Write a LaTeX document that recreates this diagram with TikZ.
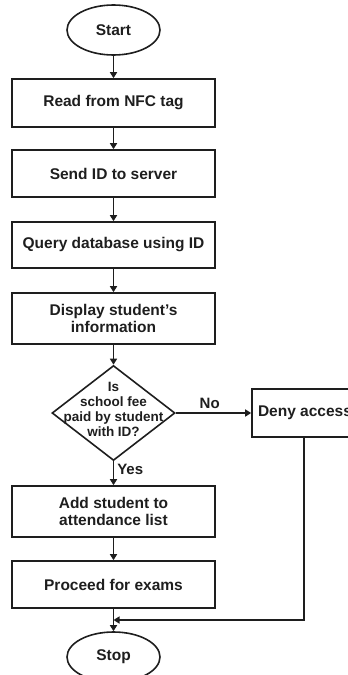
\documentclass[tikz,border=0pt]{standalone}
\usepackage{fontspec}
\setmainfont{Liberation Sans}
\usetikzlibrary{shapes.geometric,arrows.meta}
\definecolor{ink}{HTML}{1E1E1E}
\tikzset{
  box/.style={draw=ink, line width=1.6pt, rectangle, minimum width=203pt, inner sep=0pt,
    font=\fontsize{15.5}{17.5}\selectfont\bfseries, text=ink, align=center},
  term/.style={draw=ink, line width=1.6pt, ellipse, minimum width=93pt, minimum height=50pt, inner sep=0pt,
    font=\fontsize{15.5}{17.5}\selectfont\bfseries, text=ink},
  dec/.style={draw=ink, line width=1.6pt, diamond, minimum width=123pt, minimum height=95pt, inner sep=0pt},
  dtxt/.style={font=\fontsize{13.5}{15}\selectfont\bfseries, text=ink, align=center, inner sep=0pt},
  lbl/.style={font=\fontsize{15}{17}\selectfont\bfseries, text=ink, inner sep=0pt},
  conn/.style={draw=ink, line width=1.6pt, -{Triangle[length=6pt,width=7pt]}},
}
\begin{document}
\begin{tikzpicture}[x=1pt,y=-1pt]
\useasboundingbox (0,0) rectangle (348,675);
\clip (0,0) rectangle (348,675);
\node[term] (start) at (113.5,30) {Start};
\node[box, minimum height=48pt] (b1) at (113.5,103) {Read from NFC tag};
\node[box, minimum height=47pt] (b2) at (113.5,173.5) {Send ID to server};
\node[box, minimum height=46pt] (b3) at (113.5,245) {Query database using ID};
\node[box, minimum height=51pt] (b4) at (113.5,318.5) {Display student’s\\information};
\node[dec] (d) at (113.5,413) {};
\node[dtxt] (dt) at (113.5,409) {Is\\school fee\\paid by student\\with ID?};
\node[box, minimum width=106pt, minimum height=48pt] (deny) at (305,413) {Deny access};
\node[box, minimum height=51pt] (b5) at (113.5,511.5) {Add student to\\attendance list};
\node[box, minimum height=47pt] (b6) at (113.5,584.5) {Proceed for exams};
\node[term] (stop) at (113.5,657) {Stop};
\coordinate (j) at (113.5,620);
\coordinate (c) at (304,620);

\draw[conn] (start) -- (b1);
\draw[conn] (b1) -- (b2);
\draw[conn] (b2) -- (b3);
\draw[conn] (b3) -- (b4);
\draw[conn] (b4) -- (d);
\draw[conn] (d) -- (deny) node[lbl, pos=0.45, above=4pt] (no) {No};
\draw[conn] (d) -- (b5) node[lbl, pos=0.35, right=3pt] (yes) {Yes};
\draw[conn] (b5) -- (b6);
\draw[conn] (b6) -- (stop);
\draw[conn] (deny.south -| c) -- (c) -- (j);
\end{tikzpicture}
\end{document}
